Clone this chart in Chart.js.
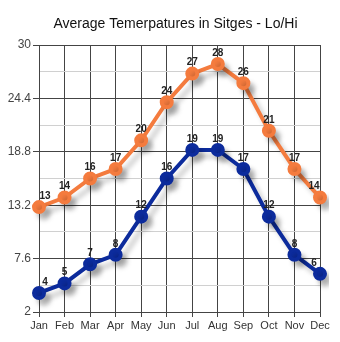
<!DOCTYPE html>
<html>
<head>
<meta charset="utf-8">
<script src="https://cdn.jsdelivr.net/npm/chart.js@4/dist/chart.umd.min.js"></script>
<style>
  html, body { margin: 0; padding: 0; background: #fff; }
  #wrap { width: 340px; height: 342px; position: relative; }
</style>
</head>
<body>
<div id="wrap"><canvas id="chart"></canvas></div>
<script>
const months = ['Jan', 'Feb', 'Mar', 'Apr', 'May', 'Jun', 'Jul', 'Aug', 'Sep', 'Oct', 'Nov', 'Dec'];
const hiTemps = [13, 14, 16, 17, 20, 24, 27, 28, 26, 21, 17, 14];
const loTemps = [4, 5, 7, 8, 12, 16, 19, 19, 17, 12, 8, 6];
const yMin = 2;
const yMax = 30;
const yStep = 2.8; // labels on every second tick (5.6)
const chartTitle = 'Average Temerpatures in Sitges - Lo/Hi';

const FONT = '"Liberation Sans", Arial, sans-serif';

// title centred over the plot area, not the whole canvas
const titlePlugin = {
  id: 'plotTitle',
  afterDraw(chart) {
    const ctx = chart.ctx;
    const area = chart.chartArea;
    ctx.save();
    ctx.font = '14px ' + FONT;
    ctx.fillStyle = '#111';
    ctx.textAlign = 'center';
    ctx.textBaseline = 'middle';
    ctx.fillText(chartTitle, (area.left + area.right) / 2 - 4, 24);
    ctx.restore();
  }
};

// soft grey shadow under each line
const shadowPlugin = {
  id: 'lineShadow',
  beforeDatasetDraw(chart) {
    const ctx = chart.ctx;
    ctx.save();
    ctx.shadowColor = 'rgba(0,0,0,0.22)';
    ctx.shadowBlur = 5;
    ctx.shadowOffsetX = 5;
    ctx.shadowOffsetY = 6;
  },
  afterDatasetDraw(chart) {
    chart.ctx.restore();
  }
};

// value labels above the points
const valueLabels = {
  id: 'valueLabels',
  afterDatasetsDraw(chart) {
    const ctx = chart.ctx;
    const area = chart.chartArea;
    ctx.save();
    ctx.font = 'bold 10px ' + FONT;
    ctx.fillStyle = '#222';
    ctx.textAlign = 'center';
    ctx.textBaseline = 'bottom';
    chart.data.datasets.forEach((ds, i) => {
      chart.getDatasetMeta(i).data.forEach((pt, j) => {
        const x = Math.min(Math.max(pt.x, area.left + 6), area.right - 6);
        ctx.fillText(ds.data[j], x, pt.y - 6);
      });
    });
    ctx.restore();
  }
};

const ctx = document.getElementById('chart').getContext('2d');
new Chart(ctx, {
  type: 'line',
  data: {
    labels: months,
    datasets: [
      {
        label: 'Hi',
        data: hiTemps,
        borderColor: '#f47b3e',
        backgroundColor: '#f47b3e',
        borderWidth: 4,
        pointRadius: 5,
        pointHoverRadius: 5,
        tension: 0,
        fill: false
      },
      {
        label: 'Lo',
        data: loTemps,
        borderColor: '#0c2b9c',
        backgroundColor: '#0c2b9c',
        borderWidth: 4,
        pointRadius: 5,
        pointHoverRadius: 5,
        tension: 0,
        fill: false
      }
    ]
  },
  options: {
    responsive: true,
    maintainAspectRatio: false,
    animation: false,
    layout: { padding: { left: 0, right: 20, top: 45, bottom: 0 } },
    plugins: {
      legend: { display: false },
      tooltip: { enabled: false },
      title: { display: false }
    },
    scales: {
      x: {
        offset: false,
        grid: { color: '#444', lineWidth: 1, tickLength: 5, drawTicks: true },
        border: { color: '#444' },
        ticks: {
          color: '#333',
          padding: 2,
          maxRotation: 0,
          autoSkip: false,
          font: { family: FONT, size: 11 }
        },
        afterFit(scale) { scale.height = 30; }
      },
      y: {
        min: yMin,
        max: yMax,
        grid: {
          color: (c) => (c.index % 2 === 0 ? '#444' : '#d0d0d0'),
          tickColor: (c) => (c.index % 2 === 0 ? '#444' : 'rgba(0,0,0,0)'),
          lineWidth: 1,
          tickLength: 6
        },
        border: { color: '#444' },
        ticks: {
          stepSize: yStep,
          color: '#444',
          padding: 2,
          autoSkip: false,
          font: { family: FONT, size: 12 },
          callback: (v, i) => (i % 2 === 0 ? String(Number(v.toFixed(1))) : '')
        },
        afterFit(scale) { scale.width = 39; }
      }
    }
  },
  plugins: [shadowPlugin, valueLabels, titlePlugin]
});
</script>
</body>
</html>
